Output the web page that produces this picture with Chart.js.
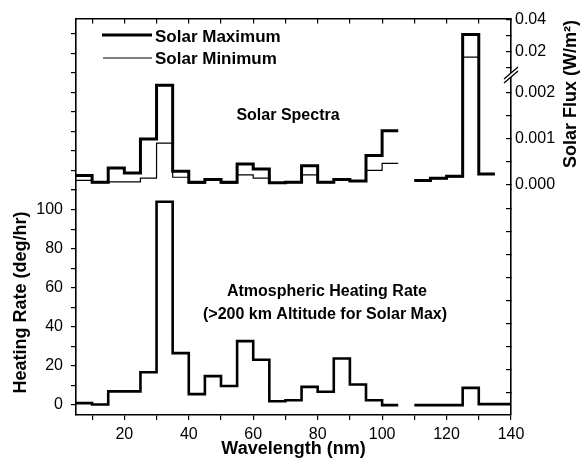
<!DOCTYPE html>
<html><head><meta charset="utf-8">
<script src="https://cdn.jsdelivr.net/npm/chart.js@4.4.1/dist/chart.umd.min.js"></script>
<style>html,body{margin:0;padding:0;background:#fff}#wrap{width:581px;height:461px;position:relative}</style>
</head><body><div id="wrap"><canvas id="c"></canvas></div>
<script>
// ---- data (wavelength bins in nm) ----
const edgesShort = [5,10,15,20,25,30,35,40,45,50,55,60,65,70,75,80,85,90,95,100,105];
const edgesLongFlux = [110,115,120,125,130,135];
const edgesLongHeat = [110,115,120,125,130,135,140];
const fluxMaxShort = [0.00021,0.00006,0.00037,0.00026,0.00100,0.00217,0.00030,0.00006,0.00012,0.00006,0.00046,0.00035,0.00005,0.00006,0.00042,0.00006,0.00012,0.00009,0.00064,0.00118];
const fluxMaxLong = [0.00010,0.00015,0.00019,0.0305,0.00024];
const fluxMinShort = [0.00010,0.00005,0.00007,0.00007,0.00015,0.00091,0.00017,0.00004,0.00010,0.00004,0.00022,0.00015,0.00004,0.00005,0.00022,0.00005,0.00010,0.00008,0.00032,0.00047];
const fluxMinLong = [0.00010,0.00014,0.00018,0.0163,0.00024];
const heatShort = [1.0,0.3,7.0,7.0,16.8,104,26.6,5.6,14.8,9.8,32.7,23.2,2.0,2.5,9.3,6.8,23.8,10.5,2.5,0.0];
const heatLong = [0,0,0,8.8,0.5,0.5];
// ---- tick labels ----
const xTickLabels = [20,40,60,80,100,120,140];
const heatTickLabels = [0,20,40,60,80,100];
const fluxLowTickLabels = ['0.000','0.001','0.002'];
const fluxHighTickLabels = ['0.02','0.04'];

// axis ranges (broken flux axis)
const FLUX_LOW_MAX = 0.00241, FLUX_LOW_MIN = -0.000108;
const FLUX_HIGH_MIN = 0.0056, FLUX_HIGH_MAX = 0.0406;

function steps(edges, values){
  const p=[]; values.forEach((v,i)=>{p.push({x:edges[i],y:v},{x:edges[i+1],y:v});}); return p;
}
function stepsLow(edges, values, cap){
  const p=[];
  values.forEach((v,i)=>{
    if(v<=cap) p.push({x:edges[i],y:v},{x:edges[i+1],y:v});
    else p.push({x:edges[i],y:cap},{x:(edges[i]+edges[i+1])/2,y:null},{x:edges[i+1],y:cap});
  });
  return p;
}
function stepsHigh(edges, values, cap, floor){
  const p=[];
  values.forEach((v,i)=>{
    if(v>cap) p.push({x:edges[i],y:floor},{x:edges[i],y:v},{x:edges[i+1],y:v},{x:edges[i+1],y:floor},{x:edges[i+1],y:null});
  });
  return p;
}
const gap = [{x:107.5,y:null}];

Chart.defaults.font.family = "'Liberation Sans', Arial, sans-serif";
Chart.defaults.color = '#000';

const lineDs = (label, data, yAxisID, w) => ({label, data, yAxisID, xAxisID:'x', borderColor:'#000', borderWidth:w,
  pointRadius:0, pointHoverRadius:0, fill:false, tension:0, spanGaps:false, borderJoinStyle:'miter', borderCapStyle:'butt'});

const datasets = [
  lineDs('Solar Maximum', stepsLow(edgesShort,fluxMaxShort,FLUX_LOW_MAX).concat(gap, stepsLow(edgesLongFlux,fluxMaxLong,FLUX_LOW_MAX)), 'yF', 3),
  lineDs('Solar Maximum (upper)', stepsHigh(edgesLongFlux,fluxMaxLong,FLUX_LOW_MAX,FLUX_HIGH_MIN), 'yF2', 3),
  lineDs('Solar Minimum', stepsLow(edgesShort,fluxMinShort,FLUX_LOW_MAX).concat(gap, stepsLow(edgesLongFlux,fluxMinLong,FLUX_LOW_MAX)), 'yF', 1.2),
  lineDs('Solar Minimum (upper)', stepsHigh(edgesLongFlux,fluxMinLong,FLUX_LOW_MAX,FLUX_HIGH_MIN), 'yF2', 1.2),
  lineDs('Heating Rate', steps(edgesShort,heatShort).concat(gap, steps(edgesLongHeat,heatLong)), 'yH', 2.6)
];

const tickFont = {size:16};
const gridBase = {drawOnChartArea:false, drawTicks:true, color:'#000', lineWidth:1.2};
const border = {color:'#000', width:1.6};
const near = (v,t)=>Math.abs(v-t)<1e-9;

const annotations = {
  id:'annotations',
  afterDraw(chart){
    const ctx = chart.ctx;
    ctx.save();
    ctx.fillStyle = '#000'; ctx.strokeStyle = '#000';
    // legend
    ctx.lineCap = 'butt';
    ctx.lineWidth = 3; ctx.beginPath(); ctx.moveTo(102,35); ctx.lineTo(152,35); ctx.stroke();
    ctx.lineWidth = 1.2; ctx.beginPath(); ctx.moveTo(103,58); ctx.lineTo(152,58); ctx.stroke();
    ctx.font = "bold 17px 'Liberation Sans', Arial, sans-serif";
    ctx.textAlign = 'left'; ctx.textBaseline = 'middle';
    ctx.fillText('Solar Maximum', 155, 37);
    ctx.fillText('Solar Minimum', 155, 59);
    // labels
    ctx.font = "bold 16px 'Liberation Sans', Arial, sans-serif";
    ctx.textAlign = 'center';
    ctx.fillText('Solar Spectra', 288, 116);
    ctx.fillText('Atmospheric Heating Rate', 327, 292);
    ctx.fillText('(>200 km Altitude for Solar Max)', 325, 315);
    // right title
    ctx.font = "bold 18px 'Liberation Sans', Arial, sans-serif";
    ctx.translate(571, 94); ctx.rotate(-Math.PI/2);
    ctx.fillText('Solar Flux (W/m²)', 0, 0);
    ctx.restore();
    // axis break marks
    const yb = chart.scales.yF.top, xr = chart.chartArea.right;
    ctx.save();
    ctx.fillStyle = '#fff';
    ctx.beginPath(); ctx.moveTo(xr-7,yb+5); ctx.lineTo(xr+7,yb-7); ctx.lineTo(xr+7,yb-3); ctx.lineTo(xr-7,yb+9); ctx.closePath(); ctx.fill();
    ctx.strokeStyle = '#000'; ctx.lineWidth = 1.3;
    ctx.beginPath(); ctx.moveTo(xr-7,yb+5); ctx.lineTo(xr+7,yb-7); ctx.moveTo(xr-7,yb+9); ctx.lineTo(xr+7,yb-3); ctx.stroke();
    ctx.restore();
  }
};

new Chart(document.getElementById('c'), {
  type:'line',
  data:{datasets},
  options:{
    responsive:true, maintainAspectRatio:false, animation:false,
    layout:{padding:{top:15,left:0,right:0,bottom:0}},
    plugins:{legend:{display:false}, tooltip:{enabled:false}},
    scales:{
      x:{type:'linear', position:'bottom', min:5, max:140,
        ticks:{stepSize:10, includeBounds:false, autoSkip:false, maxRotation:0, font:tickFont, padding:5,
          callback:v=>xTickLabels.includes(Math.round(v))&&near(v,Math.round(v))?String(Math.round(v)):''},
        grid:{...gridBase, tickLength:5}, border,
        title:{display:true, text:'Wavelength (nm)', font:{size:18, weight:'bold'}, padding:{top:0,bottom:1}},
        afterFit:s=>{s.height=46;}},
      x2:{type:'linear', position:'top', min:5, max:140,
        ticks:{stepSize:10, includeBounds:false, autoSkip:false, maxRotation:0, callback:()=>''},
        grid:{...gridBase, tickLength:-5}, border,
        afterFit:s=>{s.height=0;}},
      yH:{type:'linear', position:'left', stack:'L', stackWeight:227, weight:0, min:-5.07, max:110.0,
        ticks:{stepSize:10, includeBounds:false, autoSkip:false, font:tickFont, padding:8,
          callback:v=>heatTickLabels.includes(Math.round(v))&&near(v,Math.round(v))?String(Math.round(v)):''},
        grid:{...gridBase, tickLength:5}, border,
        title:{display:true, text:'Heating Rate (deg/hr)', font:{size:18, weight:'bold'}, padding:{top:10,bottom:0}},
        afterFit:s=>{s.width=76;}},
      yHu:{type:'linear', position:'left', stack:'L', stackWeight:173, weight:1, min:110.0, max:197.7,
        ticks:{stepSize:10, includeBounds:false, autoSkip:false, callback:()=>''},
        grid:{...gridBase, tickLength:5}, border,
        afterFit:s=>{s.width=76;}},
      yF2:{type:'linear', position:'right', stack:'R', stackWeight:56, weight:0, min:FLUX_HIGH_MIN, max:FLUX_HIGH_MAX,
        ticks:{stepSize:0.01, includeBounds:false, autoSkip:false, font:tickFont, padding:9,
          callback:v=>{const i=[0.02,0.04].findIndex(t=>near(v,t)); return i>=0?fluxHighTickLabels[i]:'';}},
        grid:{...gridBase, tickLength:-5}, border,
        afterFit:s=>{s.width=70;}},
      yF:{type:'linear', position:'right', stack:'R', stackWeight:117, weight:1, min:FLUX_LOW_MIN, max:FLUX_LOW_MAX,
        ticks:{stepSize:0.0005, includeBounds:false, autoSkip:false, font:tickFont, padding:9,
          callback:v=>{const i=[0,0.001,0.002].findIndex(t=>near(v,t)); return i>=0?fluxLowTickLabels[i]:'';}},
        grid:{...gridBase, tickLength:-5}, border,
        afterFit:s=>{s.width=70;}},
      yFb:{type:'linear', position:'right', stack:'R', stackWeight:227, weight:2, min:-0.00499, max:FLUX_LOW_MIN,
        ticks:{stepSize:0.0005, includeBounds:false, autoSkip:false, callback:()=>''},
        grid:{...gridBase, tickLength:-5}, border,
        afterFit:s=>{s.width=70;}}
    }
  },
  plugins:[annotations]
});
</script>
</body></html>
